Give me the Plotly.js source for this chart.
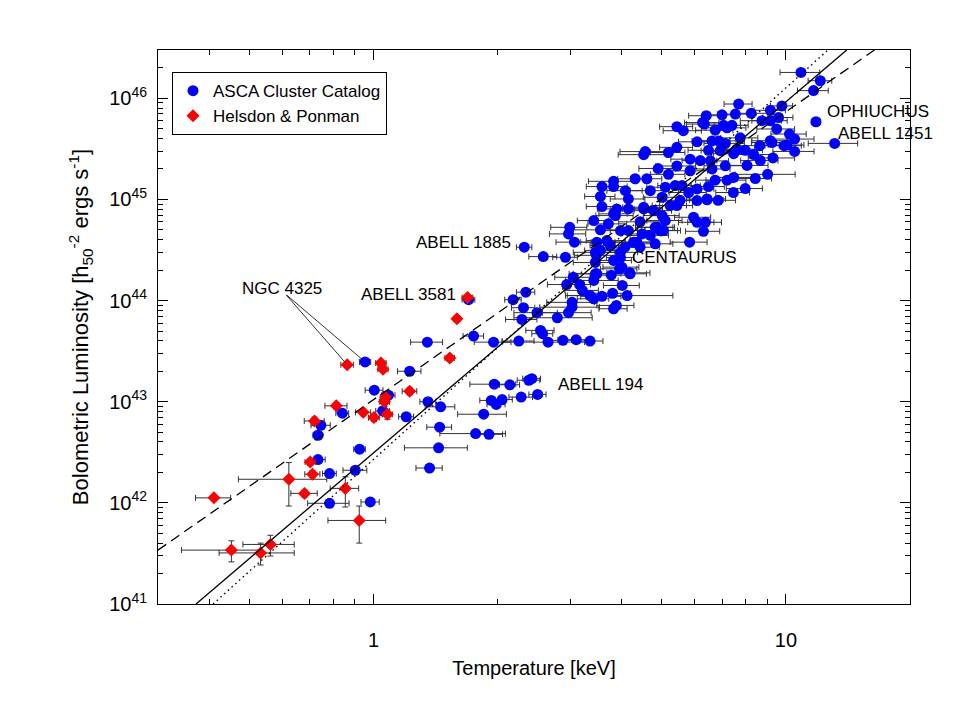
<!DOCTYPE html>
<html>
<head>
<meta charset="utf-8">
<script src="https://cdn.plot.ly/plotly-3.0.1.min.js"></script>
<style>
html,body{margin:0;padding:0;background:#fff;}
#chart{width:958px;height:706px;}
</style>
</head>
<body>
<div id="chart"></div>
<script>
// ---------------- DATA ----------------
// ASCA Cluster Catalog: temperature (keV), bolometric luminosity, temperature error (keV)
const ascaT = [
 0.954,1.223,1.004,1.087,1.052,0.840,1.200,1.355,1.454,1.446,
 1.438,0.745,0.733,0.925,0.733,0.782,0.903,0.782,0.982,1.367,
 1.768,1.905,1.849,1.930,1.984,2.050,2.280,2.500,1.962,2.140,
 2.380,2.420,1.350,1.748,1.954,2.250,2.540,2.570,2.650,2.880,
 3.100,3.350,2.290,2.310,2.490,2.790,2.970,3.030,3.820,2.320,
 2.580,2.920,2.180,2.340,3.030,3.050,2.940,3.160,3.210,3.350,
 3.420,3.480,3.420,3.580,3.800,4.120,3.880,2.990,2.970,3.070,
 3.420,3.580,3.550,3.580,3.820,3.550,3.710,3.890,4.150,3.820,
 3.970,3.480,3.550,3.470,3.820,3.950,4.180,3.970,4.070,4.430,
 4.350,4.690,4.820,4.960,5.010,4.780,4.520,5.240,5.100,5.390,
 3.860,4.150,4.520,5.010,5.440,6.090,6.440,5.970,6.090,6.380,
 6.310,5.840,4.870,5.050,4.480,4.270,4.820,3.680,3.450,4.000,
 4.190,3.450,10.88,12.12,11.67,11.83,13.13,7.680,6.410,7.000,
 7.540,8.240,9.170,9.780,9.600,8.750,9.500,10.20,10.50,9.900,
 10.50,9.250,9.300,8.640,8.350,8.050,9.030,7.750,7.600,7.200,
 6.740,6.870,6.490,6.090,5.440,5.440,4.560,4.520,6.340,5.440,
 3.820,4.310,4.600,5.600,6.090,6.490,7.200,7.470,6.440,5.810,
 5.190,6.280,7.060,7.400,9.170,6.620,7.130,7.970,10.06,7.470,
 6.560,7.130,6.740,5.860,1.700,5.860,6.200,6.620,6.930,7.970,
 8.430,5.640,5.190,4.900,4.690,4.080,5.540,6.850,7.460,8.670,
 9.170,5.100,4.430,4.150,3.750,3.450,3.770,4.010,3.970
];
const ascaL = [
 2.47e43,2.00e43,1.30e43,1.16e43,8.1e42,7.7e42,7.1e42,1.00e43,8.9e42,5.6e42,
 3.5e42,5.85e42,4.66e42,3.39e42,2.68e42,1.95e42,2.10e42,9.9e41,1.02e42,2.21e42,
 4.84e42,4.76e42,7.52e42,1.03e43,9.4e42,1.05e43,1.11e43,1.18e43,1.49e43,1.47e43,
 1.63e43,1.69e43,3.88e43,4.46e43,3.88e43,3.98e43,5.07e43,4.70e43,3.88e43,4.04e43,
 4.10e43,3.98e43,6.50e43,8.50e43,7.59e43,6.76e43,7.59e43,8.60e43,8.30e43,3.37e44,
 2.72e44,2.68e44,1.02e44,1.21e44,9.6e43,1.70e44,1.44e44,1.44e44,1.26e44,1.12e44,
 1.58e44,1.84e44,1.04e44,1.10e44,1.18e44,1.12e44,8.95e43,5.30e44,4.56e44,3.78e44,
 6.18e44,8.50e44,1.07e45,1.34e45,1.34e45,5.00e44,5.73e44,8.05e44,8.05e44,7.20e44,
 4.92e44,3.78e44,3.13e44,2.80e44,2.49e44,2.06e44,1.88e44,3.00e44,3.37e44,3.37e44,
 3.78e44,4.40e44,5.30e44,4.92e44,6.92e44,7.74e44,8.36e44,8.70e44,1.32e45,1.37e45,
 6.92e44,1.01e45,8.05e44,1.05e45,8.70e44,9.73e44,9.90e44,6.66e44,5.94e44,5.94e44,
 4.84e44,3.78e44,5.30e44,4.92e44,4.56e44,3.78e44,3.64e44,3.92e44,3.00e44,2.14e44,
 1.84e44,1.84e44,1.80e46,1.49e46,1.19e46,5.86e45,3.58e45,8.77e45,6.72e45,6.86e45,
 6.97e45,7.10e45,7.60e45,8.40e45,6.45e45,6.00e45,4.97e45,4.43e45,3.95e45,3.40e45,
 2.98e45,3.65e45,2.57e45,3.40e45,2.78e45,2.17e45,1.77e45,4.06e45,3.13e45,5.10e45,
 4.83e45,3.79e45,3.06e45,3.71e45,5.24e45,3.27e45,2.97e45,2.77e45,5.56e45,2.14e45,
 1.51e45,1.60e45,1.60e45,1.37e45,1.27e45,1.34e45,1.55e45,1.65e45,1.01e45,1.17e45,
 1.77e45,5.75e45,5.40e45,5.40e45,6.00e45,3.79e45,3.58e45,3.06e45,3.45e45,2.83e45,
 2.40e45,2.15e45,1.55e45,2.50e45,1.02e44,1.92e45,2.42e45,2.00e45,3.03e45,1.28e45,
 1.61e45,4.78e45,2.91e45,2.02e45,1.22e45,1.22e45,9.80e44,9.80e44,1.17e45,2.42e45,
 3.80e45,6.18e44,6.00e44,4.92e44,3.50e44,2.38e44,1.78e44,1.41e44,2.66e44
];
const ascaTerr = [
 0.03,0.08,0.05,0.04,0.04,0.03,0.05,0.06,0.12,0.10,
 0.25,0.04,0.02,0.03,0.03,0.03,0.06,0.09,0.05,0.10,
 0.32,0.15,0.25,0.12,0.10,0.12,0.15,0.12,0.25,0.12,
 0.15,0.12,0.12,0.10,0.20,0.20,0.20,0.15,0.60,0.30,
 0.30,0.25,0.20,0.15,0.30,0.60,0.40,0.50,0.30,0.10,
 0.20,0.20,0.10,0.12,0.40,0.30,0.30,0.20,0.30,0.40,
 0.50,0.50,0.30,0.40,0.40,1.20,0.40,0.30,0.30,0.30,
 0.30,0.30,0.30,0.30,0.30,0.50,0.40,0.40,0.40,0.30,
 0.40,0.30,0.30,0.40,0.40,0.40,0.50,0.40,0.40,0.50,
 0.50,0.50,0.50,0.50,0.50,0.50,0.50,0.50,0.50,0.50,
 0.40,0.40,0.50,0.50,0.50,0.60,0.60,0.60,0.60,0.60,
 0.60,0.60,0.50,0.50,0.50,0.50,0.50,0.40,0.40,0.40,
 0.40,0.40,1.20,0.80,1.00,0.30,1.80,0.60,0.60,0.70,
 0.70,0.80,0.80,0.60,0.80,1.00,1.00,1.00,1.20,1.00,
 1.20,1.00,1.20,1.00,1.00,1.00,1.50,0.80,0.80,0.80,
 0.70,0.70,0.70,0.60,0.50,0.50,0.60,0.60,0.60,0.60,
 0.50,0.40,0.40,0.60,0.60,0.60,0.80,0.80,0.70,0.60,
 0.50,0.60,0.70,0.70,0.90,0.70,0.80,0.80,1.00,0.80,
 0.70,0.80,0.70,0.60,0.06,0.60,0.60,0.70,0.70,0.80,
 0.80,0.60,0.50,0.50,0.50,0.40,0.50,0.70,0.70,0.90,
 0.90,0.50,0.50,0.40,0.40,0.40,0.40,0.40,0.30
];

// Helsdon & Ponman groups
const hpT = [0.410,0.623,0.702,0.711,0.680,0.854,0.923,0.452,0.532,0.562,
             0.863,1.042,1.054,1.223,1.069,1.063,1.080,0.944,1.002,0.812,
             0.719,1.690,1.593,1.530];
const hpL = [1.12e42,1.71e42,2.54e42,1.92e42,1.24e42,1.39e42,6.7e41,3.41e41,3.20e41,3.88e41,
             2.32e43,2.41e43,2.09e43,1.27e43,1.11e43,1.00e43,7.5e42,7.85e42,6.96e42,9.1e42,
             6.45e42,1.07e44,6.6e43,2.7e43];
const hpTerrMinus = [0.040,0.153,0.020,0.030,0.050,0.069,0.148,0.110,0.110,0.080,
                     0.030,0.030,0.030,0.050,0.030,0.030,0.030,0.040,0.030,0.050,
                     0.040,0.050,0.030,0.040];
const hpTerrPlus  = [0.040,0.147,0.020,0.030,0.050,0.066,0.147,0.080,0.110,0.080,
                     0.030,0.030,0.030,0.050,0.030,0.030,0.030,0.040,0.030,0.050,
                     0.040,0.050,0.030,0.040];
const hpLerrMinus = [0.05e42,0.78e42,0.20e42,0.15e42,0.10e42,0.48e42,2.7e41,0.8e41,0.77e41,0.9e41,
                     0.15e43,0.15e43,0.15e43,0.10e43,0.15e43,0.10e43,0.8e42,0.6e42,0.6e42,0.6e42,
                     0.6e42,0.05e44,0.3e43,0.2e43];
const hpLerrPlus  = [0.05e42,0.79e42,0.20e42,0.15e42,0.10e42,0.42e42,2.6e41,0.8e41,0.80e41,0.9e41,
                     0.15e43,0.15e43,0.15e43,0.10e43,0.15e43,0.10e43,0.8e42,0.6e42,0.6e42,0.6e42,
                     0.6e42,0.05e44,0.3e43,0.2e43];

// Fit lines (end points read from the frame edges)
const fitSolidT  = [0.371, 14.05];
const fitSolidL  = [1e41, 3e46];
const fitDottedT = [0.408, 12.65];
const fitDottedL = [1e41, 3e46];
const fitDashedT = [0.300, 16.4];
const fitDashedL = [3.41e41, 3e46];

// Axis ticks
const xTickVals = [1, 10];
const xTickText = ['1', '10'];
const xMinorVals = [0.4,0.5,0.6,0.7,0.8,0.9,2,3,4,5,6,7,8,9];
const yTickVals = [1e41,1e42,1e43,1e44,1e45,1e46];
const yTickText = ['10<sup>41</sup>','10<sup>42</sup>','10<sup>43</sup>','10<sup>44</sup>','10<sup>45</sup>','10<sup>46</sup>'];
const yMinorMult = [2,3,4,5,6,7,8,9];

// Labels
const labelText = ['OPHIUCHUS','ABELL 1451','ABELL 1885','CENTAURUS','ABELL 3581','NGC 4325','ABELL 194'];
const labelT = [12.46, 13.25, 2.182, 4.195, 1.605, 0.475, 2.774];
const labelL = [7.36e45, 4.47e45, 3.75e44, 2.67e44, 1.15e44, 1.32e44, 1.49e43];
const labelAnchor = ['left','left','right','left','right','left','left'];

// ---------------- PLOT ----------------
const FONT = 'Liberation Sans, Arial, Helvetica, sans-serif';
const yMinorVals = [];
for (let e = 41; e <= 46; e++) for (const m of yMinorMult) { const v = m * Math.pow(10, e); if (v <= 3.01e46) yMinorVals.push(v); }

const traces = [
  {
    x: ascaT, y: ascaL, type: 'scatter', mode: 'markers', name: 'ASCA Cluster Catalog',
    marker: {symbol: 'circle', color: '#0000ff', size: 11, line: {width: 0}},
    error_x: {type: 'data', array: ascaTerr, symmetric: true, color: '#333333', thickness: 1, width: 3}
  },
  {
    x: hpT, y: hpL, type: 'scatter', mode: 'markers', name: 'Helsdon &amp; Ponman',
    marker: {symbol: 'diamond', color: '#ff0000', size: 10, line: {width: 0}},
    error_x: {type: 'data', array: hpTerrPlus, arrayminus: hpTerrMinus, symmetric: false, color: '#333333', thickness: 1, width: 3},
    error_y: {type: 'data', array: hpLerrPlus, arrayminus: hpLerrMinus, symmetric: false, color: '#333333', thickness: 1, width: 3}
  },
  {x: fitSolidT, y: fitSolidL, type: 'scatter', mode: 'lines', showlegend: false, line: {color: '#000', width: 1.3}},
  {x: fitDottedT, y: fitDottedL, type: 'scatter', mode: 'lines', showlegend: false, line: {color: '#000', width: 1.4, dash: '1.5px,3.5px'}},
  {x: fitDashedT, y: fitDashedL, type: 'scatter', mode: 'lines', showlegend: false, line: {color: '#000', width: 1.3, dash: '10px,6px'}}
];

const annotations = labelText.map((t, i) => ({
  x: Math.log10(labelT[i]), y: Math.log10(labelL[i]), xref: 'x', yref: 'y',
  text: t, showarrow: false, xanchor: labelAnchor[i], yanchor: 'middle',
  font: {family: FONT, size: 17, color: '#000'}
}));
// NGC 4325 pointer lines to its two points
[[hpT[10], hpL[10]], [ascaT[0], ascaL[0]]].forEach(p => {
  annotations.push({
    x: Math.log10(p[0]), y: Math.log10(p[1]), xref: 'x', yref: 'y',
    ax: Math.log10(0.61), ay: Math.log10(1.17e44), axref: 'x', ayref: 'y',
    text: '', showarrow: true, arrowhead: 0, arrowwidth: 0.8, arrowcolor: '#000', standoff: 4
  });
});

const axisCommon = {
  type: 'log', showgrid: false, zeroline: false,
  showline: true, linecolor: '#000', linewidth: 1, mirror: 'ticks',
  ticks: 'inside', ticklen: 10, tickwidth: 1, tickcolor: '#000',
  tickfont: {family: FONT, size: 20, color: '#000'}
};

const layout = {
  width: 958, height: 706,
  margin: {l: 158, r: 48, t: 50, b: 102},
  paper_bgcolor: '#fff', plot_bgcolor: '#fff',
  font: {family: FONT, color: '#000'},
  showlegend: true,
  legend: {
    x: 0.0186, y: 0.96, xanchor: 'left', yanchor: 'top',
    bgcolor: '#fff', bordercolor: '#000', borderwidth: 1, itemwidth: 30,
    font: {family: FONT, size: 17, color: '#000'}, tracegroupgap: 0
  },
  xaxis: Object.assign({}, axisCommon, {
    range: [Math.log10(0.3), Math.log10(20)],
    tickmode: 'array', tickvals: xTickVals, ticktext: xTickText,
    ticklabelstandoff: 18,
    minor: {tickmode: 'array', tickvals: xMinorVals, ticks: 'inside', ticklen: 5, tickwidth: 1, tickcolor: '#000', showgrid: false},
    title: {text: 'Temperature [keV]', font: {family: FONT, size: 20, color: '#000'}, standoff: 10}
  }),
  yaxis: Object.assign({}, axisCommon, {
    range: [41, Math.log10(3e46)],
    tickmode: 'array', tickvals: yTickVals, ticktext: yTickText,
    ticklabelstandoff: 6,
    minor: {tickmode: 'array', tickvals: yMinorVals, ticks: 'inside', ticklen: 5, tickwidth: 1, tickcolor: '#000', showgrid: false},
    title: {text: 'Bolometric Luminosity [h<sub>50</sub><sup>-2</sup> ergs s<sup>-1</sup>]', font: {family: FONT, size: 22, color: '#000'}, standoff: 14}
  }),
  annotations: annotations
};

Plotly.newPlot('chart', traces, layout, {staticPlot: true, displayModeBar: false});
</script>
</body>
</html>
